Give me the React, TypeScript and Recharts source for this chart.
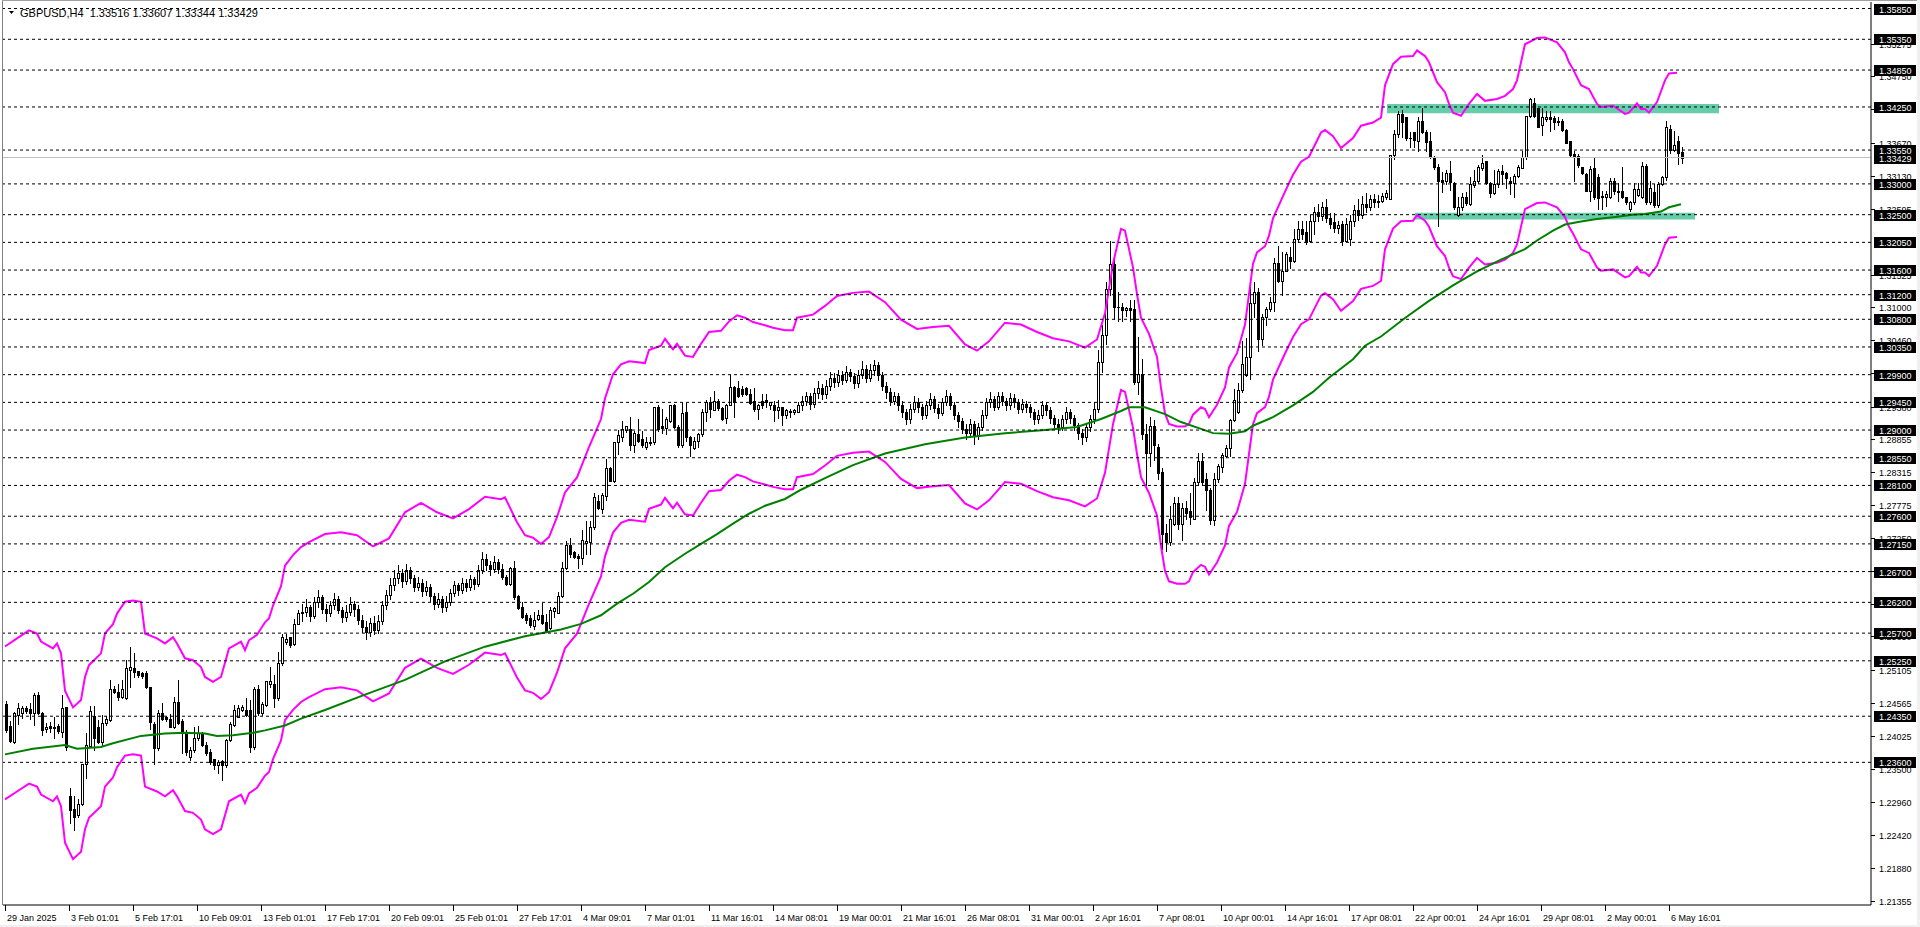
import React from "react";
import {
  ComposedChart,
  Bar,
  Line,
  XAxis,
  YAxis,
  ReferenceLine,
  ReferenceArea,
} from "recharts";

type C4 = [number, number, number, number]; // open, high, low, close

const CHART_W = 1920;
const CHART_H = 927;
const PLOT_LEFT = 3;
const PLOT_TOP = 2;
const Y_AXIS_W = 49;
const X_AXIS_H = 22;
const SLOT_COUNT = 467;
const PLOT_RIGHT = CHART_W - Y_AXIS_W;
const PLOT_BOTTOM = CHART_H - X_AXIS_H;
const FONT = "'Liberation Sans', Arial, sans-serif";

const PRICE_MIN = 1.21282;
const PRICE_MAX = 1.35956;

const SYMBOL = "GBPUSD,H4";
const LABEL_STEP = 16;
const timeLabels = [
  "29 Jan 2025", "3 Feb 01:01", "5 Feb 17:01", "10 Feb 09:01", "13 Feb 01:01",
  "17 Feb 17:01", "20 Feb 09:01", "25 Feb 01:01", "27 Feb 17:01", "4 Mar 09:01",
  "7 Mar 01:01", "11 Mar 16:01", "14 Mar 08:01", "19 Mar 00:01", "21 Mar 16:01",
  "26 Mar 08:01", "31 Mar 00:01", "2 Apr 16:01", "7 Apr 08:01", "10 Apr 00:01",
  "14 Apr 16:01", "17 Apr 08:01", "22 Apr 00:01", "24 Apr 16:01", "29 Apr 08:01",
  "2 May 00:01", "6 May 16:01",
];

// price axis plain ticks
const axisTicks = [
  1.21355, 1.2188, 1.2242, 1.2296, 1.235, 1.24025, 1.24565, 1.25105, 1.2565,
  1.2618, 1.2671, 1.2725, 1.27775, 1.28315, 1.28855, 1.2938, 1.2992, 1.3046,
  1.31, 1.31525, 1.32595, 1.3313, 1.3367, 1.3421, 1.3475, 1.35275,
];
// horizontal dashed levels (tagged on axis)
const priceLevels = [
  1.3585, 1.3535, 1.3485, 1.3425, 1.3355, 1.33, 1.325, 1.3205, 1.316, 1.312,
  1.308, 1.3035, 1.299, 1.2945, 1.29, 1.2855, 1.281, 1.276, 1.2715, 1.267,
  1.262, 1.257, 1.2525, 1.2435, 1.236,
];
const CURRENT_PRICE = 1.33429;

// support / resistance zones: [startIndex, endIndex, lowPrice, highPrice]
const zones: [number, number, number, number][] = [
  [346, 428, 1.3415, 1.343],
  [353, 422, 1.3242, 1.3253],
];

const candlesJanFeb: C4[] = [
  [1.2455,1.246,1.241,1.2413],[1.2419,1.2428,1.2393,1.2395],[1.2393,1.2442,1.2392,1.244],[1.2437,1.2456,1.2423,1.2448],
  [1.244,1.2452,1.2432,1.2448],[1.2448,1.2452,1.244,1.2444],[1.2446,1.2456,1.2431,1.244],[1.244,1.2472,1.2421,1.247],
  [1.247,1.2474,1.2439,1.2441],[1.2441,1.2442,1.2404,1.2412],[1.2414,1.2424,1.241,1.2418],[1.2419,1.2426,1.241,1.2416],
  [1.2416,1.2434,1.2399,1.2418],[1.2419,1.2422,1.2408,1.2411],[1.241,1.2469,1.2402,1.2448],[1.245,1.245,1.238,1.2385],
  [1.2305,1.2319,1.2262,1.2283],[1.2285,1.2305,1.225,1.2272],[1.2275,1.2301,1.2272,1.2293],[1.2292,1.2358,1.2291,1.2357],
  [1.2357,1.2407,1.2334,1.2388],[1.2387,1.2451,1.2386,1.2443],[1.2436,1.2451,1.238,1.24],[1.2418,1.2429,1.2391,1.2393],
  [1.2393,1.2437,1.2386,1.2424],[1.2424,1.2435,1.242,1.2431],[1.2429,1.2494,1.2427,1.248],[1.248,1.2484,1.2472,1.2475],
  [1.2475,1.2488,1.2461,1.2466],[1.2466,1.2494,1.2464,1.248],[1.2464,1.2526,1.2463,1.2513],[1.251,1.2548,1.2483,1.2515],
  [1.2514,1.2537,1.2499,1.2507],[1.2508,1.2509,1.2498,1.2502],[1.2505,1.2507,1.2497,1.2501],[1.2505,1.2508,1.2481,1.2482],
  [1.2482,1.2482,1.2415,1.2426],[1.2423,1.2426,1.2358,1.2383],[1.2383,1.2445,1.238,1.2441],[1.2441,1.2456,1.2429,1.243],
  [1.2433,1.2435,1.2428,1.243],[1.2431,1.2439,1.2417,1.2418],[1.2417,1.2466,1.2416,1.2458],[1.2458,1.2494,1.2423,1.2424],
  [1.2427,1.2431,1.2375,1.241],[1.241,1.2412,1.2372,1.2377],[1.2368,1.2385,1.2364,1.238],[1.238,1.2418,1.2377,1.24],
  [1.2399,1.2419,1.2396,1.2407],[1.2407,1.241,1.2386,1.2388],[1.2388,1.2393,1.2372,1.2375],[1.2377,1.2382,1.2358,1.2361],
  [1.2365,1.2366,1.235,1.2356],[1.2356,1.2364,1.2342,1.236],[1.2362,1.2364,1.2331,1.2355],[1.2355,1.2398,1.2353,1.2397],
  [1.2396,1.2426,1.2394,1.2422],[1.242,1.2453,1.2419,1.2445],[1.2434,1.2453,1.2434,1.2448],[1.2445,1.2453,1.2444,1.245],
  [1.2445,1.2464,1.2436,1.2437],[1.2445,1.2461,1.2377,1.2385],[1.2385,1.2482,1.2382,1.248],[1.248,1.2485,1.2437,1.244],
  [1.244,1.2458,1.2437,1.2455],[1.2453,1.2492,1.2452,1.2492],[1.2487,1.2515,1.2483,1.2492],[1.2488,1.2502,1.245,1.2464],
  [1.2464,1.254,1.2461,1.2521],[1.2521,1.2569,1.2518,1.2563],[1.2556,1.2569,1.2553,1.2561],[1.2563,1.2564,1.2548,1.255],
  [1.2552,1.2593,1.255,1.2585],[1.2585,1.2607,1.2585,1.2602],
];

const candlesLateFeb: C4[] = [
  [1.2602,1.2618,1.259,1.2605],[1.2605,1.2625,1.2598,1.2612],[1.2612,1.2616,1.259,1.2598],[1.2598,1.2628,1.2595,1.262],
  [1.262,1.264,1.2612,1.2628],[1.2628,1.2632,1.2602,1.261],[1.261,1.2618,1.259,1.2602],[1.2602,1.2622,1.2598,1.2615],
  [1.2615,1.2636,1.261,1.2625],[1.2625,1.263,1.2602,1.2608],[1.2608,1.2612,1.2588,1.2596],[1.2596,1.2615,1.259,1.2604],
  [1.2604,1.2628,1.26,1.2618],[1.2618,1.2622,1.2598,1.261],[1.261,1.2615,1.2585,1.2592],[1.2592,1.26,1.2572,1.258],
  [1.258,1.259,1.256,1.2572],[1.2572,1.2595,1.2565,1.2586],[1.2586,1.2598,1.2568,1.2575],[1.2575,1.26,1.257,1.259],
  [1.259,1.2622,1.2585,1.2615],[1.2615,1.264,1.261,1.2632],[1.2632,1.266,1.2625,1.2648],[1.2648,1.2672,1.264,1.266],
  [1.266,1.268,1.2652,1.2668],[1.2668,1.2675,1.2645,1.2655],[1.2655,1.2682,1.265,1.2672],[1.2672,1.2678,1.2652,1.266],
  [1.266,1.2665,1.2638,1.2645],[1.2645,1.2662,1.264,1.2652],[1.2652,1.2658,1.263,1.2638],[1.2638,1.2655,1.2632,1.2645],
  [1.2645,1.265,1.2622,1.263],[1.263,1.2636,1.261,1.2618],[1.2618,1.2635,1.2612,1.2625],[1.2625,1.263,1.2605,1.2612],
  [1.2612,1.263,1.2606,1.262],[1.262,1.2642,1.2615,1.2635],[1.2635,1.2655,1.263,1.2648],[1.2648,1.2652,1.2632,1.264],
  [1.264,1.266,1.2636,1.2652],[1.2652,1.2658,1.2638,1.2645],[1.2645,1.2665,1.264,1.2658],[1.2658,1.2662,1.2642,1.265],
  [1.265,1.268,1.2646,1.2672],[1.2672,1.2702,1.2668,1.269],[1.269,1.2698,1.2672,1.268],[1.268,1.2688,1.2665,1.2675],
  [1.2675,1.2695,1.267,1.2686],[1.2686,1.269,1.2668,1.2675],
];

const candlesMarch: C4[] = [
  [1.2675,1.2683,1.2658,1.2661],[1.2662,1.2665,1.2648,1.265],[1.265,1.2677,1.2648,1.2676],[1.2676,1.2688,1.2626,1.2629],
  [1.263,1.2632,1.2609,1.2611],[1.2613,1.262,1.2594,1.2596],[1.2599,1.2602,1.2586,1.2591],[1.2594,1.2599,1.258,1.2583],
  [1.2581,1.2604,1.2577,1.2592],[1.2593,1.2607,1.2591,1.26],[1.26,1.2619,1.2585,1.2586],[1.2588,1.2601,1.2574,1.2574],
  [1.2578,1.2612,1.2577,1.2607],[1.2606,1.2613,1.2596,1.2611],[1.2602,1.2637,1.2602,1.2631],[1.2631,1.2685,1.2629,1.2676],
  [1.2676,1.2719,1.2675,1.2714],[1.2713,1.2725,1.2694,1.2699],[1.2702,1.2704,1.2692,1.2694],[1.2696,1.2699,1.2676,1.2692],
  [1.2692,1.2737,1.2683,1.2721],[1.2716,1.2752,1.2698,1.272],[1.2718,1.2752,1.2699,1.2743],[1.2742,1.2797,1.2739,1.2791],
  [1.2785,1.2795,1.2772,1.2774],[1.2772,1.2797,1.2765,1.2794],[1.2793,1.2853,1.2786,1.2838],[1.2838,1.284,1.2817,1.2818],
  [1.2818,1.2881,1.2815,1.2881],[1.288,1.29,1.2861,1.2892],[1.2888,1.2915,1.2883,1.2902],[1.29,1.2907,1.2897,1.2906],
  [1.2901,1.2922,1.2867,1.2875],[1.2875,1.2899,1.2864,1.2895],[1.2894,1.2918,1.288,1.2883],[1.2886,1.2899,1.2872,1.2875],
  [1.2872,1.2889,1.2869,1.2881],[1.2881,1.2889,1.2875,1.2879],[1.288,1.2938,1.2878,1.2938],[1.2938,1.2941,1.2899,1.2902],
  [1.2906,1.2934,1.2896,1.2903],[1.2904,1.2921,1.2893,1.2918],[1.2915,1.2941,1.2913,1.294],[1.294,1.2943,1.2903,1.2905],
  [1.2905,1.2908,1.2872,1.2875],[1.2875,1.2944,1.2872,1.2927],[1.2929,1.2944,1.2883,1.2888],[1.2889,1.2891,1.2858,1.2875],
  [1.2871,1.2889,1.287,1.2883],[1.2883,1.2895,1.2872,1.2893],[1.2893,1.2934,1.2891,1.293],[1.2929,1.2949,1.2915,1.2945],
  [1.2945,1.2953,1.2921,1.2934],[1.2933,1.2964,1.2932,1.2947],[1.2948,1.2951,1.2932,1.2936],[1.2936,1.2938,1.2916,1.2918],
  [1.292,1.2943,1.2911,1.2941],[1.2941,1.299,1.294,1.297],[1.297,1.2972,1.2921,1.2945],[1.2968,1.298,1.2954,1.2956],
  [1.2967,1.2971,1.2956,1.2958],[1.2968,1.297,1.2957,1.2959],[1.2959,1.2967,1.2942,1.2944],[1.2947,1.2968,1.2931,1.2934],
  [1.2934,1.2943,1.2918,1.2941],[1.2947,1.2959,1.2936,1.2941],[1.2949,1.2959,1.2938,1.2945],[1.294,1.2945,1.2934,1.2945],
  [1.294,1.2948,1.2915,1.2932],[1.2932,1.2949,1.292,1.2938],[1.2938,1.2938,1.2908,1.2925],[1.2925,1.2934,1.292,1.2932],
  [1.2931,1.2934,1.2921,1.2929],[1.2929,1.2934,1.2926,1.2932],[1.293,1.2945,1.2929,1.294],
];

const candlesLateMarch: C4[] = [
  [1.294,1.2955,1.2932,1.2948],[1.2948,1.2962,1.294,1.2955],[1.2955,1.296,1.2935,1.2942],[1.2942,1.2968,1.2938,1.296],
  [1.296,1.298,1.2952,1.2968],[1.2968,1.2975,1.295,1.2958],[1.2958,1.2982,1.2952,1.2972],[1.2972,1.2995,1.2965,1.2985],
  [1.2985,1.2992,1.297,1.2978],[1.2978,1.2998,1.2972,1.299],[1.299,1.2996,1.2975,1.2982],[1.2982,1.3004,1.2978,1.2995],
  [1.2995,1.3,1.298,1.2988],[1.2988,1.2992,1.2968,1.2976],[1.2976,1.2998,1.297,1.299],[1.299,1.3012,1.2985,1.3],
  [1.3,1.3005,1.2978,1.2985],[1.2985,1.3008,1.298,1.2998],[1.2998,1.3014,1.299,1.3005],[1.3005,1.301,1.2982,1.299],
  [1.299,1.2995,1.2965,1.2972],[1.2972,1.2978,1.2952,1.2962],[1.2962,1.2968,1.294,1.2948],[1.2948,1.2962,1.2942,1.2955],
  [1.2955,1.296,1.2932,1.294],[1.294,1.2948,1.2922,1.293],[1.293,1.2935,1.291,1.2918],[1.2918,1.2942,1.2912,1.2935],
  [1.2935,1.2955,1.293,1.2945],[1.2945,1.2952,1.293,1.2938],[1.2938,1.2942,1.2918,1.2925],[1.2925,1.2948,1.292,1.294],
  [1.294,1.296,1.2935,1.295],[1.295,1.2955,1.293,1.2936],[1.2936,1.2942,1.292,1.2928],[1.2928,1.2952,1.2925,1.2945],
  [1.2945,1.2965,1.294,1.2955],[1.2955,1.296,1.2935,1.294],[1.294,1.2945,1.2918,1.2925],[1.2925,1.293,1.2905,1.2915],
  [1.2915,1.292,1.2895,1.2902],[1.2902,1.291,1.2885,1.2895],[1.2895,1.2918,1.289,1.291],[1.291,1.2915,1.2878,1.289],
  [1.289,1.2912,1.2885,1.2905],[1.2905,1.2932,1.29,1.2925],[1.2925,1.2952,1.292,1.2945],[1.2945,1.2962,1.2938,1.295],
  [1.295,1.2955,1.2932,1.2938],[1.2938,1.2962,1.2935,1.2955],[1.2955,1.2962,1.294,1.2948],[1.2948,1.2952,1.2932,1.294],
  [1.294,1.296,1.2935,1.2952],[1.2952,1.2958,1.2938,1.2945],[1.2945,1.295,1.2928,1.2935],[1.2935,1.295,1.293,1.2942],
  [1.2942,1.2948,1.293,1.2938],[1.2938,1.2942,1.2922,1.293],[1.293,1.2935,1.291,1.2918],[1.2918,1.2932,1.2912,1.2925],
  [1.2925,1.2948,1.292,1.294],[1.294,1.2945,1.2925,1.2932],[1.2932,1.2938,1.2912,1.292],[1.292,1.2925,1.2902,1.291],
  [1.291,1.2918,1.2895,1.2905],[1.2905,1.2925,1.29,1.2918],[1.2918,1.2938,1.2912,1.293],[1.293,1.2935,1.2912,1.292],
  [1.292,1.2925,1.29,1.2908],[1.2908,1.2912,1.2885,1.2895],[1.2895,1.2902,1.2878,1.2888],[1.2888,1.2912,1.2882,1.2905],
  [1.2905,1.2925,1.2898,1.2918],[1.2918,1.2945,1.2912,1.2935],[1.2935,1.303,1.293,1.301],[1.301,1.307,1.2995,1.3055],
  [1.3055,1.314,1.304,1.313],[1.313,1.3207,1.312,1.317],[1.317,1.3185,1.308,1.31],[1.31,1.3125,1.3078,1.31],
];

const candlesApril: C4[] = [
  [1.31,1.3107,1.3078,1.3095],[1.3095,1.31,1.3085,1.3098],[1.3098,1.3111,1.3078,1.3095],[1.3097,1.3111,1.2975,1.2978],
  [1.2978,1.3051,1.2959,1.2991],[1.2991,1.3015,1.2886,1.2894],[1.2894,1.291,1.281,1.2862],[1.2862,1.2922,1.2842,1.2907],
  [1.2907,1.2917,1.2852,1.2875],[1.2872,1.2878,1.282,1.2831],[1.2832,1.2838,1.2706,1.2731],[1.2733,1.2747,1.2704,1.2718],
  [1.2718,1.2776,1.2713,1.2755],[1.2748,1.2792,1.2745,1.2781],[1.2781,1.2791,1.2739,1.2748],[1.2748,1.2782,1.2722,1.2773],
  [1.2773,1.2785,1.2755,1.2766],[1.2768,1.2797,1.2748,1.2758],[1.2756,1.2822,1.2755,1.2816],[1.2815,1.2862,1.2813,1.2849],
  [1.2849,1.2862,1.2812,1.2815],[1.282,1.2831,1.277,1.2802],[1.2803,1.2806,1.2748,1.2754],[1.2754,1.283,1.2746,1.2821],
  [1.282,1.2845,1.2815,1.2841],[1.284,1.2862,1.2832,1.2859],[1.2858,1.2875,1.2857,1.2871],[1.2871,1.2918,1.2858,1.2916],
  [1.2916,1.2966,1.2915,1.2949],[1.2929,1.2976,1.2928,1.2965],[1.2965,1.3044,1.2962,1.3008],[1.299,1.3049,1.2988,1.3018],
  [1.3018,1.3142,1.2983,1.3106],[1.3106,1.3141,1.3083,1.3124],[1.3124,1.3131,1.3028,1.3048],[1.3048,1.3088,1.3038,1.3083],
  [1.3083,1.31,1.307,1.3096],[1.3096,1.3117,1.3094,1.3108],[1.3108,1.318,1.3093,1.3172],[1.3172,1.3199,1.314,1.3142],
  [1.3142,1.3189,1.312,1.3159],[1.3159,1.319,1.3158,1.3186],[1.3182,1.3198,1.3163,1.3175],[1.3174,1.3227,1.3173,1.321],
  [1.321,1.324,1.3206,1.3226],[1.3226,1.324,1.321,1.3218],[1.3222,1.324,1.3203,1.3206],[1.3207,1.325,1.3205,1.324],
  [1.324,1.3262,1.3218,1.3255],[1.3255,1.3268,1.324,1.3248],[1.3248,1.327,1.3242,1.3262],[1.3262,1.3275,1.3238,1.3245],
  [1.3245,1.3252,1.3228,1.3235],[1.3238,1.3252,1.3222,1.3228],[1.3228,1.324,1.322,1.3234],[1.3235,1.324,1.32,1.3208],
  [1.3208,1.3245,1.3205,1.3235],[1.321,1.325,1.32,1.324],[1.324,1.3265,1.3232,1.3258],[1.3258,1.3275,1.3242,1.325],
  [1.325,1.328,1.3245,1.3268],[1.3268,1.3285,1.3255,1.3262],[1.3262,1.3282,1.3258,1.3275],[1.3275,1.3284,1.3262,1.327],
  [1.327,1.3282,1.3262,1.3273],
];

const candlesLateApril: C4[] = [
  [1.3273,1.3285,1.327,1.3281],[1.3278,1.329,1.3276,1.3286],[1.3276,1.3347,1.3275,1.3347],[1.3347,1.3387,1.3341,1.3381],
  [1.3381,1.3419,1.3376,1.3413],[1.3413,1.342,1.3376,1.34],[1.3408,1.3409,1.3372,1.3375],[1.3375,1.3384,1.336,1.3374],
  [1.3384,1.3384,1.336,1.3371],[1.3369,1.3409,1.3354,1.3402],[1.3402,1.3423,1.3382,1.3384],[1.3384,1.3387,1.3354,1.3368],
  [1.3369,1.3384,1.3342,1.3343],[1.3344,1.3345,1.3324,1.3328],[1.3328,1.3332,1.3231,1.3305],[1.3307,1.3319,1.3287,1.3303],
  [1.3304,1.3322,1.33,1.3318],[1.3318,1.3338,1.329,1.3303],[1.3302,1.3303,1.3259,1.3262],[1.325,1.3278,1.3248,1.3262],
  [1.3262,1.3286,1.3258,1.3278],[1.3278,1.3287,1.3266,1.3269],[1.3268,1.3311,1.3266,1.33],[1.3299,1.3322,1.3295,1.3305],
  [1.3304,1.333,1.3302,1.3327],[1.3326,1.3347,1.3322,1.3334],[1.3337,1.3338,1.33,1.3302],[1.3302,1.3303,1.3278,1.3286],
  [1.3286,1.3322,1.3284,1.33],[1.33,1.3324,1.3295,1.3321],[1.3321,1.333,1.33,1.3316],[1.3318,1.3319,1.3294,1.331],
  [1.3305,1.3311,1.3284,1.3301],[1.3301,1.3316,1.3278,1.3313],[1.3313,1.333,1.3312,1.3327],[1.3326,1.3354,1.3326,1.3343],
];

const candlesMay: C4[] = [
  [1.3343,1.3411,1.3341,1.3411],[1.3411,1.344,1.3409,1.3438],[1.3432,1.344,1.3408,1.3411],[1.3423,1.3424,1.3392,1.3393],
  [1.3396,1.3423,1.3379,1.3409],[1.3405,1.3419,1.3402,1.3409],[1.3408,1.3419,1.3386,1.3406],[1.3407,1.3411,1.3389,1.3401],
  [1.3403,1.3408,1.3396,1.3401],[1.3402,1.3405,1.3386,1.3387],[1.3387,1.3389,1.3366,1.3367],[1.3369,1.337,1.3343,1.3347],
  [1.3349,1.3354,1.3305,1.3346],[1.3346,1.3348,1.3327,1.333],[1.3327,1.3327,1.3316,1.3317],[1.3316,1.3317,1.3288,1.3289],
  [1.3289,1.3329,1.3273,1.3324],[1.3326,1.3343,1.3275,1.3278],[1.3312,1.3316,1.3259,1.3277],[1.3281,1.3289,1.3259,1.3279],
  [1.3278,1.3289,1.3264,1.3283],[1.3278,1.331,1.3277,1.3304],[1.3304,1.331,1.3284,1.3289],[1.3289,1.3302,1.3273,1.3287],
  [1.3288,1.3328,1.3277,1.3278],[1.3278,1.3279,1.3268,1.327],[1.3259,1.3273,1.3256,1.327],[1.327,1.3302,1.3268,1.3292],
  [1.3282,1.3302,1.328,1.3292],[1.3278,1.3335,1.3277,1.3329],[1.3329,1.3332,1.3268,1.327],[1.327,1.3305,1.3268,1.3294],
  [1.3287,1.33,1.3262,1.3265],[1.3265,1.3303,1.3263,1.33],[1.33,1.3313,1.3298,1.3311],[1.3311,1.3402,1.3306,1.3392],
  [1.339,1.3396,1.3351,1.3355],[1.3355,1.3386,1.3353,1.3364],[1.3369,1.3378,1.3332,1.3351],[1.33516,1.33607,1.33344,1.33429],
];

// Envelope (1%) basis: [barIndex, basis]
const ENVELOPE_DEV = 0.01;
const envelopeBasis: [number, number][] = [
  [0,1.2424],[3,1.2437],[6,1.245],[8,1.2445],[9,1.2432],[12,1.2421],[13,1.2429],[14,1.2413],[15,1.2353],[17,1.2326],
  [19,1.2338],[20,1.2375],[21,1.2394],[24,1.2413],[25,1.2445],[27,1.246],[28,1.2477],[30,1.2496],[32,1.2498],[34,1.2496],
  [35,1.2445],[38,1.2437],[40,1.2429],[42,1.2439],[43,1.2429],[45,1.2405],[47,1.2402],[49,1.2391],[50,1.2375],[52,1.2367],
  [54,1.2375],[56,1.2421],[59,1.2432],[60,1.2418],[61,1.2434],[63,1.2443],[65,1.2463],[66,1.2469],[67,1.249],[69,1.2521],
  [70,1.2554],[72,1.2571],[74,1.2584],[76,1.2592],[80,1.2605],[84,1.2608],[88,1.2603],[92,1.2585],[96,1.2598],[100,1.264],
  [104,1.2655],[108,1.264],[112,1.263],[116,1.2645],[120,1.2665],[124,1.2661],[125,1.2664],[128,1.2624],[130,1.2603],[132,1.2599],
  [134,1.2589],[136,1.26],[138,1.2632],[140,1.2672],[143,1.2696],[146,1.2745],[149,1.279],[150,1.2823],[152,1.2862],[154,1.2878],
  [156,1.2883],[160,1.288],[161,1.2901],[164,1.2908],[165,1.2919],[167,1.2902],[168,1.2911],[170,1.2892],[172,1.289],[174,1.2911],
  [176,1.293],[179,1.2932],[181,1.2947],[183,1.2957],[185,1.2953],[187,1.2946],[190,1.2941],[192,1.2937],[195,1.2933],[197,1.2933],
  [198,1.2953],[202,1.2958],[205,1.2972],[208,1.2988],[212,1.2993],[216,1.2995],[220,1.2978],[224,1.295],[228,1.2935],[232,1.2938],
  [236,1.294],[240,1.291],[243,1.29],[246,1.2915],[250,1.2945],[254,1.2942],[258,1.293],[262,1.292],[266,1.2915],[270,1.2905],
  [273,1.2918],[275,1.296],[277,1.304],[279,1.3096],[280,1.3093],[282,1.3034],[283,1.2991],[284,1.2953],[286,1.2927],[288,1.289],
  [289,1.284],[290,1.2799],[291,1.2782],[293,1.2778],[295,1.2778],[296,1.2782],[297,1.2797],[299,1.2809],[300,1.2806],[301,1.2793],
  [303,1.2813],[305,1.2841],[306,1.2873],[308,1.2896],[310,1.2942],[311,1.2991],[312,1.304],[313,1.3058],[315,1.3068],[316,1.3085],
  [317,1.3113],[320,1.3156],[322,1.3183],[324,1.3204],[326,1.3212],[329,1.3251],[330,1.3255],[332,1.3245],[334,1.3226],[337,1.3242],
  [339,1.3262],[342,1.3267],[344,1.3275],[345,1.3327],[347,1.3361],[349,1.3373],[352,1.3374],[353,1.3383],[355,1.3374],[356,1.3364],
  [358,1.3332],[360,1.3316],[361,1.3297],[362,1.3283],[364,1.3278],[366,1.3297],[368,1.3313],[370,1.3302],[373,1.3305],[375,1.331],
  [377,1.3321],[378,1.3335],[380,1.3393],[383,1.3403],[385,1.3404],[388,1.3396],[390,1.338],[391,1.3364],[392,1.3353],[394,1.3327],
  [396,1.3321],[398,1.3297],[399,1.3292],[402,1.3294],[405,1.3281],[406,1.3283],[408,1.3298],[409,1.3289],[410,1.3289],[411,1.3283],
  [413,1.33],[415,1.3335],[416,1.3346],[418,1.3347],
];

// long moving average: [barIndex, value]
const movingAverage: [number, number][] = [
  [0,1.2373],[7,1.2382],[15,1.2388],[18,1.2382],[24,1.2385],[27,1.2391],[34,1.2403],[40,1.2407],[45,1.2408],[50,1.2407],
  [53,1.2403],[57,1.2404],[62,1.2408],[65,1.2412],[70,1.242],[74,1.2431],[80,1.2445],[90,1.247],[100,1.2494],[110,1.2524],
  [120,1.2548],[130,1.2565],[139,1.2576],[144,1.2585],[149,1.2599],[153,1.2618],[157,1.2634],[161,1.2653],[165,1.2677],[170,1.2699],
  [174,1.2715],[178,1.2731],[182,1.2748],[186,1.2764],[190,1.2777],[195,1.2788],[199,1.2803],[205,1.2822],[212,1.2843],[220,1.2862],
  [230,1.2877],[240,1.2888],[250,1.2895],[260,1.29],[268,1.2905],[274,1.2918],[279,1.2931],[281,1.2937],[285,1.2937],[290,1.2926],
  [294,1.2913],[299,1.2902],[302,1.2895],[306,1.2894],[310,1.2898],[312,1.2907],[317,1.2921],[322,1.294],[327,1.2962],[331,1.2985],
  [337,1.3015],[340,1.3037],[344,1.3052],[350,1.3082],[356,1.311],[362,1.3135],[368,1.3158],[374,1.3177],[380,1.3194],[383,1.3208],
  [387,1.3224],[390,1.3234],[394,1.3239],[398,1.3243],[402,1.3246],[407,1.325],[410,1.3251],[414,1.3255],[416,1.3262],[419,1.3267],
];

const candles: C4[] = [
  ...candlesJanFeb, ...candlesLateFeb, ...candlesMarch, ...candlesLateMarch,
  ...candlesApril, ...candlesLateApril, ...candlesMay,
];

const envMap = new Map(envelopeBasis);
const maMap = new Map(movingAverage);

const rows = Array.from({ length: SLOT_COUNT }, (_, i) => {
  const c = candles[i];
  const b = envMap.get(i);
  return {
    i,
    o: c ? c[0] : null,
    h: c ? c[1] : null,
    l: c ? c[2] : null,
    c: c ? c[3] : null,
    envU: b != null ? b * (1 + ENVELOPE_DEV) : null,
    envL: b != null ? b * (1 - ENVELOPE_DEV) : null,
    ma: maMap.has(i) ? maMap.get(i) : null,
  };
});

const xTicks = timeLabels.map((_, k) => k * LABEL_STEP);
const levelSet = new Set(priceLevels);
const yTicks = [...axisTicks, CURRENT_PRICE, ...priceLevels];
const last = candles[candles.length - 1];
const titleText = `${SYMBOL}\u00a0\u00a0${last.map((v) => v.toFixed(5)).join(" ")}`;

const Candle = (props: any) => {
  const { x, y, width, height, payload } = props;
  if (!payload || payload.o == null || height == null) return null;
  const { o, h, l, c } = payload;
  const k = h - l > 0 ? height / (h - l) : 0;
  const cx = Math.round(x + width / 2);
  const yO = y + (h - o) * k;
  const yC = y + (h - c) * k;
  const top = Math.round(Math.min(yO, yC));
  const bot = Math.round(Math.max(yO, yC));
  const bull = c >= o;
  return (
    <g>
      <line x1={cx + 0.5} x2={cx + 0.5} y1={Math.round(y)} y2={Math.round(y + height) + 1} stroke="#000" strokeWidth={1} />
      {bot - top >= 1 ? (
        <rect x={cx - 0.5} y={top + 0.5} width={2} height={bot - top} fill={bull ? "#fff" : "#000"} stroke="#000" strokeWidth={1} />
      ) : (
        <line x1={cx - 1} x2={cx + 2} y1={top + 0.5} y2={top + 0.5} stroke="#000" strokeWidth={1} />
      )}
    </g>
  );
};

const XTick = (props: any) => {
  const { x, payload } = props;
  const idx = Math.round(Number(payload.value) / LABEL_STEP);
  const px = Math.round(x);
  return (
    <g>
      <line x1={px + 0.5} x2={px + 0.5} y1={PLOT_BOTTOM} y2={PLOT_BOTTOM + 6} stroke="#000" />
      <text x={px + 2} y={PLOT_BOTTOM + 13} fontSize={9} fontFamily={FONT} fill="#000" dominantBaseline="central">
        {timeLabels[idx]}
      </text>
    </g>
  );
};

const YTick = (props: any) => {
  const { y, payload } = props;
  const v = Number(payload.value);
  const yy = Math.round(y);
  const tagged = levelSet.has(v) || v === CURRENT_PRICE;
  if (tagged) {
    return (
      <g>
        <rect x={PLOT_RIGHT + 3} y={yy - 5} width={42} height={11} fill="#000" />
        <text x={PLOT_RIGHT + 8} y={yy + 0.5} fontSize={9} fontFamily={FONT} fill="#fff" dominantBaseline="central">
          {v.toFixed(5)}
        </text>
      </g>
    );
  }
  return (
    <g>
      <line x1={PLOT_RIGHT} x2={PLOT_RIGHT + 4} y1={yy + 0.5} y2={yy + 0.5} stroke="#000" />
      <text x={PLOT_RIGHT + 8} y={yy + 0.5} fontSize={9} fontFamily={FONT} fill="#000" dominantBaseline="central">
        {v.toFixed(5)}
      </text>
    </g>
  );
};

export default function App() {
  return (
    <div style={{ position: "relative", width: CHART_W, height: CHART_H, background: "#fff" }}>
      <style>{`body{margin:0;background:#fff;}`}</style>
      <ComposedChart
        width={CHART_W}
        height={CHART_H}
        data={rows}
        margin={{ top: PLOT_TOP, right: 0, bottom: 0, left: PLOT_LEFT }}
        barCategoryGap={0}
        barGap={0}
      >
        <XAxis
          dataKey="i"
          type="category"
          ticks={xTicks}
          interval={0}
          height={X_AXIS_H}
          tickLine={false}
          axisLine={{ stroke: "#000" }}
          tick={<XTick />}
        />
        <YAxis
          orientation="right"
          type="number"
          domain={[PRICE_MIN, PRICE_MAX]}
          allowDataOverflow
          ticks={yTicks}
          interval={0}
          width={Y_AXIS_W}
          tickLine={false}
          axisLine={{ stroke: "#000" }}
          tick={<YTick />}
        />
        {zones.map(([a, b, lo, hi], k) => (
          <ReferenceArea key={`z${k}`} x1={a} x2={b} y1={lo} y2={hi} fill="#66CDAA" fillOpacity={1} stroke="none" />
        ))}
        <ReferenceLine y={CURRENT_PRICE} stroke="#C0C0C0" strokeWidth={1} />
        <Bar
          dataKey={(d: any) => (d.o == null ? null : [d.l, d.h])}
          barSize={3}
          isAnimationActive={false}
          shape={(p: any) => <Candle {...p} />}
        />
        <Line dataKey="envU" stroke="#FF00FF" strokeWidth={2} dot={false} connectNulls isAnimationActive={false} type="linear" />
        <Line dataKey="envL" stroke="#FF00FF" strokeWidth={2} dot={false} connectNulls isAnimationActive={false} type="linear" />
        <Line dataKey="ma" stroke="#008000" strokeWidth={2} dot={false} connectNulls isAnimationActive={false} type="linear" />
        {priceLevels.map((p) => (
          <ReferenceLine key={`l${p}`} y={p} stroke="#000" strokeWidth={1} strokeDasharray="3 3" />
        ))}
      </ComposedChart>
      <svg
        width={CHART_W}
        height={CHART_H}
        style={{ position: "absolute", left: 0, top: 0, pointerEvents: "none" }}
      >
        <line x1={2.5} x2={2.5} y1={0} y2={PLOT_BOTTOM} stroke="#808080" />
        <line x1={2} x2={CHART_W - 3} y1={0.5} y2={0.5} stroke="#a0a0a0" />
        <rect x={CHART_W - 3} y={0} width={3} height={CHART_H} fill="#f0f0f0" />
        <rect x={0} y={CHART_H - 2} width={CHART_W} height={2} fill="#f0f0f0" />
        <path d="M9 11 L14 11 L11.5 14 Z" fill="#000" />
        <text x={20} y={12.5} fontSize={11} fontFamily={FONT} fill="#000" dominantBaseline="central">
          {titleText}
        </text>
      </svg>
    </div>
  );
}
